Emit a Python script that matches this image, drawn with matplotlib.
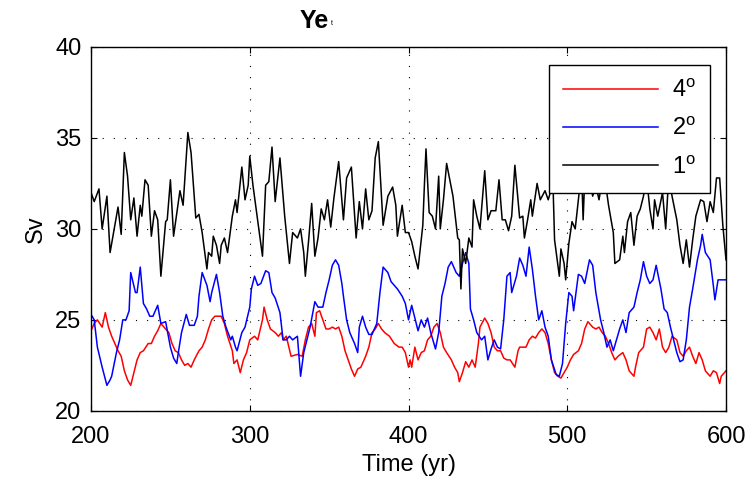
import matplotlib
matplotlib.use("Agg")
import matplotlib.pyplot as plt

plt.rcParams['font.family'] = ['Liberation Sans', 'DejaVu Sans']
plt.rcParams['mathtext.fontset'] = 'custom'
plt.rcParams['mathtext.rm'] = 'Liberation Sans'

# 1 degree run (black)
yr_1 = [200, 202, 205, 207, 210, 212, 214, 217, 219, 221, 223, 225, 227, 229, 231, 232, 234, 236, 238, 240,
        242, 244, 247, 248, 250, 252, 256, 258, 261, 263, 266, 268, 270, 273, 274, 276, 277, 279, 281, 282,
        284, 286, 289, 291, 292, 295, 297, 299, 300, 302, 304, 308, 310, 312, 314, 316, 319, 322, 325, 327,
        330, 332, 334, 335, 337, 339, 341, 343, 345, 347, 349, 351, 353, 356, 358, 359, 361, 364, 367, 369,
        371, 373, 375, 377, 379, 381, 384, 387, 390, 392, 393, 396, 398, 400, 402, 404, 406, 409, 410, 411,
        413, 415, 417, 419, 420, 422, 424, 428, 431, 432, 433, 434, 436, 438, 440, 441, 443, 445, 448, 450,
        452, 455, 457, 459, 461, 463, 465, 467, 470, 472, 473, 475, 477, 478, 481, 483, 486, 488, 491, 492,
        495, 496, 498, 499, 501, 503, 505, 507, 509, 510, 511, 514, 516, 518, 520, 523, 526, 529, 530, 533,
        535, 536, 538, 540, 542, 544, 546, 548, 550, 552, 554, 555, 557, 560, 562, 564, 566, 569, 571, 573,
        575, 577, 579, 581, 584, 586, 588, 590, 592, 594, 596, 598, 600]
sv_1 = [32.0, 31.5, 32.2, 30.0, 31.8, 28.7, 29.7, 31.2, 29.7, 34.2, 32.9, 30.5, 31.7, 29.6, 31.3, 30.7, 32.7, 32.4, 29.6, 31.0,
        30.5, 27.4, 30.4, 30.5, 32.7, 29.6, 32.1, 31.3, 35.3, 34.2, 30.6, 30.8, 29.8, 27.8, 28.7, 28.5, 29.6, 29.1, 28.1, 29.1,
        29.5, 28.7, 30.7, 31.6, 30.9, 33.4, 31.6, 32.4, 34.0, 32.4, 31.1, 28.5, 32.4, 32.6, 34.5, 31.5, 33.9, 30.7, 28.1, 29.8,
        29.5, 30.0, 28.7, 27.4, 29.3, 31.4, 28.5, 29.5, 31.1, 30.5, 31.6, 30.1, 31.7, 33.7, 31.6, 30.5, 32.8, 33.4, 29.5, 31.5,
        30.0, 32.2, 30.5, 31.0, 33.9, 34.8, 30.2, 31.8, 32.3, 31.3, 29.6, 31.3, 29.8, 29.8, 29.3, 28.5, 27.8, 30.2, 32.4, 34.4,
        30.9, 30.7, 30.0, 32.9, 30.0, 31.6, 33.6, 31.8, 29.5, 29.4, 26.7, 28.9, 28.1, 29.5, 29.0, 31.6, 30.7, 30.0, 33.2, 30.5,
        31.0, 31.0, 32.7, 30.5, 30.5, 29.9, 30.7, 33.5, 30.6, 30.7, 29.5, 30.5, 31.6, 30.7, 32.5, 31.6, 32.1, 31.6, 32.5, 29.4,
        27.4, 28.9, 28.1, 27.2, 29.2, 30.4, 30.0, 31.6, 33.2, 30.5, 32.8, 33.0, 31.8, 32.4, 31.6, 33.2, 31.3, 29.8, 28.1, 28.3,
        29.6, 28.7, 30.4, 30.9, 29.1, 30.7, 31.1, 31.8, 32.8, 31.1, 30.0, 31.6, 30.7, 32.0, 30.0, 33.0, 31.8, 30.5, 29.1, 28.1,
        29.4, 27.9, 29.4, 30.7, 31.6, 31.5, 30.4, 31.5, 30.9, 32.8, 32.8, 30.2, 28.3]

# 2 degree run (blue)
yr_2 = [200, 202, 204, 207, 210, 212, 213, 216, 218, 220, 222, 224, 225, 228, 229, 231, 233, 235, 237, 239,
        242, 244, 247, 250, 252, 254, 255, 257, 260, 262, 265, 267, 268, 270, 273, 275, 276, 279, 281, 283,
        285, 288, 289, 291, 292, 295, 297, 300, 301, 303, 305, 307, 310, 312, 314, 316, 319, 321, 323, 325,
        327, 330, 332, 334, 338, 341, 343, 346, 348, 350, 352, 354, 356, 358, 359, 361, 363, 366, 368, 369,
        371, 373, 375, 377, 380, 382, 384, 387, 389, 391, 393, 396, 398, 400, 402, 406, 408, 410, 412, 414,
        417, 419, 421, 423, 425, 427, 430, 432, 434, 436, 438, 439, 441, 443, 446, 448, 450, 452, 454, 456,
        458, 460, 462, 464, 465, 468, 470, 472, 474, 476, 478, 480, 482, 484, 486, 488, 490, 493, 495, 497,
        499, 501, 503, 504, 507, 509, 511, 514, 516, 518, 521, 523, 525, 527, 529, 531, 533, 535, 537, 539,
        542, 544, 546, 548, 550, 552, 554, 556, 559, 561, 563, 565, 567, 569, 571, 573, 575, 577, 579, 582,
        584, 585, 587, 590, 592, 593, 595, 597, 600]
sv_2 = [25.3, 25.0, 23.5, 22.4, 21.4, 21.7, 21.9, 23.2, 23.9, 25.0, 25.0, 25.5, 27.6, 26.5, 26.5, 27.9, 25.9, 25.6, 25.2, 25.2,
        25.8, 24.8, 24.9, 23.5, 22.9, 22.6, 23.2, 24.3, 25.3, 24.7, 24.7, 25.2, 26.3, 27.6, 26.9, 26.0, 26.5, 27.5, 26.5, 25.2,
        24.6, 23.9, 24.1, 23.5, 23.3, 24.3, 24.6, 25.7, 26.7, 27.4, 26.9, 27.0, 27.7, 27.6, 26.5, 26.2, 25.4, 23.9, 23.9, 24.1,
        23.9, 24.1, 21.9, 23.2, 24.6, 26.0, 25.7, 25.7, 26.5, 27.2, 28.0, 28.3, 28.0, 27.0, 26.3, 25.0, 24.3, 23.7, 23.2, 24.6,
        25.2, 24.6, 24.2, 24.2, 24.8, 26.5, 27.9, 27.6, 27.1, 26.9, 26.7, 26.3, 25.9, 25.0, 25.8, 24.4, 25.0, 24.6, 25.1, 24.3,
        23.4, 24.3, 26.3, 27.0, 27.9, 28.2, 27.6, 27.4, 28.1, 28.7, 28.1, 25.6, 25.0, 24.3, 23.9, 24.1, 22.8, 23.4, 23.9, 23.5,
        23.4, 25.0, 27.4, 27.6, 26.5, 27.4, 28.4, 28.0, 27.4, 29.0, 27.8, 26.3, 25.0, 25.5, 24.6, 24.1, 22.8, 22.0, 21.9, 22.6,
        24.8, 26.5, 26.3, 25.5, 27.5, 27.4, 27.0, 28.3, 28.0, 26.5, 25.0, 24.3, 23.5, 23.9, 23.3, 23.9, 24.5, 25.0, 24.3, 25.4,
        25.7, 26.5, 27.2, 28.2, 27.4, 27.0, 27.2, 28.0, 26.7, 25.6, 25.4, 24.6, 23.9, 23.2, 22.7, 22.8, 23.9, 25.7, 26.7, 28.3,
        29.1, 29.7, 28.7, 28.3, 26.9, 26.1, 27.2, 27.2, 27.2]

# 4 degree run (red)
yr_4 = [200, 202, 204, 207, 209, 211, 213, 215, 217, 219, 221, 223, 225, 227, 229, 231, 233, 236, 238, 240,
        242, 244, 246, 249, 251, 253, 255, 257, 259, 261, 263, 265, 268, 270, 272, 274, 276, 278, 280, 282,
        284, 286, 289, 290, 292, 294, 296, 298, 300, 303, 305, 308, 309, 311, 313, 316, 318, 320, 321, 323,
        326, 330, 333, 335, 337, 339, 341, 342, 344, 346, 348, 350, 352, 354, 356, 358, 360, 362, 364, 366,
        368, 370, 373, 375, 377, 379, 381, 383, 385, 388, 391, 394, 396, 398, 400, 401, 402, 404, 406, 408,
        410, 412, 414, 416, 418, 420, 422, 424, 427, 429, 431, 432, 434, 436, 438, 440, 442, 444, 445, 448,
        450, 452, 454, 456, 458, 460, 462, 464, 467, 469, 470, 472, 474, 476, 478, 480, 482, 484, 486, 488,
        490, 492, 494, 496, 498, 500, 502, 504, 507, 509, 511, 513, 516, 518, 520, 522, 524, 526, 528, 530,
        532, 535, 537, 539, 542, 543, 545, 548, 550, 552, 554, 556, 558, 560, 562, 564, 566, 569, 571, 573,
        575, 577, 579, 581, 583, 585, 587, 590, 592, 594, 596, 597, 600]
sv_4 = [24.4, 24.8, 25.0, 24.6, 25.4, 24.6, 24.1, 23.7, 23.3, 23.0, 22.2, 21.7, 21.4, 22.1, 22.8, 23.2, 23.3, 23.7, 23.7, 24.1,
        24.4, 24.8, 24.6, 24.3, 23.7, 23.3, 23.2, 22.8, 22.5, 22.6, 22.4, 22.8, 23.3, 23.5, 23.9, 24.5, 25.0, 25.2, 25.2, 25.2,
        24.8, 24.1, 23.3, 22.6, 22.8, 22.1, 22.8, 23.2, 23.9, 24.1, 23.9, 25.0, 25.7, 25.0, 24.5, 24.3, 24.1, 24.3, 23.9, 24.1,
        23.0, 23.1, 23.0, 23.9, 24.6, 24.8, 24.1, 25.4, 25.5, 25.0, 24.5, 24.5, 24.6, 24.5, 24.6, 24.1, 23.3, 22.8, 22.3, 21.9,
        22.3, 22.4, 23.0, 23.5, 24.3, 24.5, 24.8, 24.5, 24.3, 24.1, 23.7, 23.5, 23.5, 23.2, 22.4, 22.8, 22.4, 23.5, 22.8, 23.2,
        23.3, 23.9, 24.1, 24.6, 24.8, 24.3, 23.5, 23.2, 22.8, 22.4, 22.1, 21.6, 22.1, 22.7, 22.4, 22.8, 22.4, 23.7, 24.6, 25.1,
        24.8, 24.3, 23.5, 23.3, 23.3, 22.9, 22.8, 22.8, 22.4, 23.3, 23.5, 23.5, 23.5, 23.9, 24.1, 24.0, 24.3, 24.5, 24.3, 23.7,
        22.8, 22.1, 21.9, 21.8, 22.1, 22.4, 22.8, 23.1, 23.3, 23.7, 24.5, 24.9, 24.6, 24.5, 24.6, 24.3, 24.1, 23.7, 23.2, 22.8,
        23.0, 23.2, 22.8, 22.2, 21.9, 22.4, 23.2, 23.5, 24.5, 24.6, 24.3, 23.9, 24.5, 23.5, 23.2, 23.5, 24.1, 23.9, 23.2, 23.0,
        23.3, 23.5, 23.0, 22.6, 23.2, 22.8, 22.2, 21.9, 22.2, 22.1, 21.5, 21.9, 22.2]

labels = ['4$^{\\rm o}$', '2$^{\\rm o}$', '1$^{\\rm o}$']

fig = plt.figure(figsize=(7.48, 4.84), dpi=100)
ax = fig.add_axes([0.1217, 0.1512, 0.8489, 0.7517])

ax.plot(yr_4, sv_4, color='#ff0000', lw=1.1, label=labels[0])
ax.plot(yr_2, sv_2, color='#0000ff', lw=1.1, label=labels[1])
ax.plot(yr_1, sv_1, color='black', lw=1.1, label=labels[2])

ax.set_xlim(200, 600)
ax.set_ylim(20, 40)
ax.set_xticks([200, 300, 400, 500, 600])
ax.set_yticks([20, 25, 30, 35, 40])
ax.grid(True, color='black', linestyle=(0, (1, 9)), linewidth=0.8)
ax.tick_params(direction='in', length=4, width=0.8, top=True, right=True, labelsize=17)
ax.tick_params(axis='x', pad=11)
ax.tick_params(axis='y', pad=7)
for s in ax.spines.values():
    s.set_linewidth(1.0)

ax.set_xlabel('Time (yr)', fontsize=17, labelpad=4)
ax.set_ylabel('Sv', fontsize=17, labelpad=6)

leg = ax.legend(loc='upper right', bbox_to_anchor=(0.975, 0.9505), borderaxespad=0, fontsize=17,
                handlelength=4.0, handletextpad=0.6, labelspacing=0.65,
                borderpad=0.6, fancybox=False, framealpha=1, edgecolor='black')
leg.get_frame().set_linewidth(1.0)

fig.text(0.401, 0.957, 'Ye', fontsize=18, fontweight='bold', ha='left', va='center')
fig.text(0.443, 0.952, 't', fontsize=5, ha='left', va='center')

fig.savefig('out.png', dpi=100)
